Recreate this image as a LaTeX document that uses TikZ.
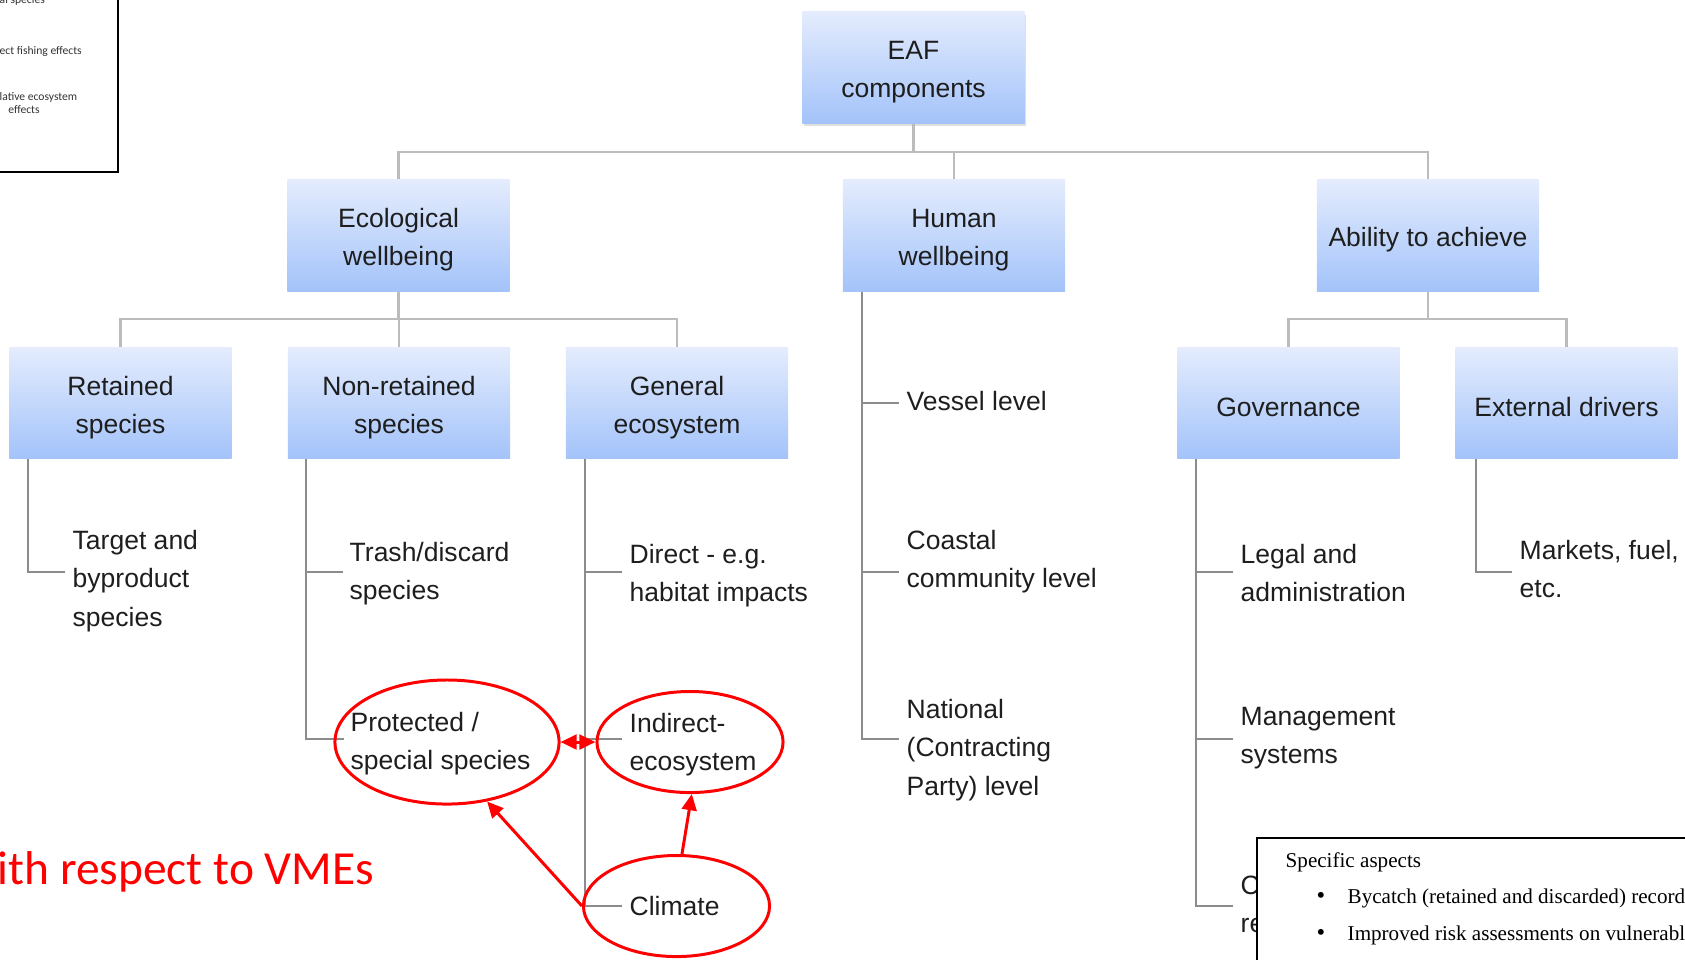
\documentclass[tikz,border=0pt]{standalone}
\usepackage{fontspec}
\setmainfont{Liberation Sans}
\newfontfamily\calib{Carlito}
\newfontfamily\tms{Liberation Serif}
\usetikzlibrary{shapes.geometric,arrows.meta,shadows,calc}

\definecolor{boxtop}{RGB}{228,236,253}
\definecolor{boxbot}{RGB}{163,195,250}
\definecolor{wire}{RGB}{188,188,188}
\definecolor{stemgray}{RGB}{140,140,140}
\definecolor{txt}{RGB}{30,30,30}
\definecolor{mark}{RGB}{255,0,0}

% strut that lowers box labels a little inside their boxes
\newcommand\liftline{\rule{0pt}{1.05em}}

\begin{document}
\begin{tikzpicture}[x=0.01cm,y=-0.01cm,
  comp/.style={rectangle, top color=boxtop, bottom color=boxbot, draw=none,
    minimum width=2.22cm, minimum height=1.11cm, align=center, inner sep=0pt,
    text=txt, font={\fontsize{7.54}{10.85}\selectfont}},
  leaf/.style={anchor=west, align=left, inner sep=0pt, text=txt,
    font={\fontsize{7.54}{10.85}\selectfont}},
  wireline/.style={draw=wire, line width=0.6pt},
  stemline/.style={draw=stemgray, line width=0.55pt},
  hl/.style={ellipse, draw=mark, line width=0.85pt, inner sep=0pt},
  harrow/.style={draw=mark, line width=0.85pt, -{Triangle[length=4.6pt,width=4.2pt]}},
  harrows/.style={draw=mark, line width=0.85pt, {Triangle[length=4.6pt,width=4.2pt]}-{Triangle[length=4.6pt,width=4.2pt]}},
  small/.style={inner sep=0pt, text=black!80, font={\calib\fontsize{3.3}{4}\selectfont}},
  spec/.style={inner sep=0pt, text=black, font={\tms\fontsize{6}{7}\selectfont}}
]
\useasboundingbox (0,0) rectangle (1685,959);
\clip (0,0) rectangle (1685,959);

% legend box at the top left, running off the page
\draw[line width=0.6pt] (-20,-20) rectangle (118,172);
\node[small, anchor=base west] (lg1) at (-1,3) {al species};
\node[small, anchor=base west] (lg2) at (-1,54) {ect fishing effects};
\node[small, anchor=base west] (lg3) at (-1,100) {lative ecosystem};
\node[small, anchor=base] (lg4) at (24,113) {effects};

% component boxes
\node[comp, drop shadow={opacity=0.25, shadow xshift=0.5pt, shadow yshift=-0.8pt}] (eaf) at (913.5,67.5) {\liftline EAF\\components};
\node[comp] (eco) at (398.5,235.5) {\liftline Ecological\\wellbeing};
\node[comp] (hum) at (954,235.5) {\liftline Human\\wellbeing};
\node[comp] (abl) at (1428,235.5) {\liftline Ability to achieve};
\node[comp] (ret) at (120.5,403) {\liftline Retained\\species};
\node[comp] (non) at (399,403) {\liftline Non-retained\\species};
\node[comp] (gen) at (677,403) {\liftline General\\ecosystem};
\node[comp] (gov) at (1288.5,403) {\liftline Governance};
\node[comp] (ext) at (1566.5,403) {\liftline External drivers};

% tree connectors
\coordinate (bus1) at (913.5,152);
\coordinate (bus2) at (0,319);
\draw[wireline] (eaf.south) -- (eaf.south |- bus1);
\draw[wireline] (eco.north) |- (bus1 -| abl.north) -- (abl.north);
\draw[wireline] (hum.north) -- (hum.north |- bus1);
\draw[wireline] (eco.south) -- (eco.south |- bus2);
\draw[wireline] (ret.north) |- (bus2 -| gen.north) -- (gen.north);
\draw[wireline] (non.north) -- (non.north |- bus2);
\draw[wireline] (abl.south) -- (abl.south |- bus2);
\draw[wireline] (gov.north) |- (bus2 -| ext.north) -- (ext.north);

% leaf items
\node[leaf] (tgt) at (72,581) {Target and\\byproduct\\species};
\node[leaf] (trash) at (349,574) {Trash/discard\\species};
\node[leaf] (prot) at (350,744) {Protected /\\special species};
\node[leaf] (dir) at (629,576) {Direct - e.g.\\habitat impacts};
\node[leaf] (ind) at (629,745) {Indirect-\\ecosystem};
\node[leaf] (clim) at (629,906) {Climate};
\node[leaf] (ves) at (906,401) {Vessel level};
\node[leaf] (coast) at (906,562) {Coastal\\community level};
\node[leaf] (nat) at (906,750) {National\\(Contracting\\Party) level};
\node[leaf] (legal) at (1240,573) {Legal and\\administration};
\node[leaf] (mgmt) at (1240,738) {Management\\systems};
\begin{scope}
  \clip (1230,860) rectangle (1257,950);
  \node[leaf] (third) at (1240,904) {C\\re};
\end{scope}
\node[leaf] (mkt) at (1519,569) {Markets, fuel,\\etc.};

% stems and ticks
\coordinate (s-ret) at ($(ret.south west)+(19,0)$);
\coordinate (s-non) at ($(non.south west)+(19,0)$);
\coordinate (s-gen) at ($(gen.south west)+(20,0)$);
\coordinate (s-hum) at ($(hum.south west)+(19.5,0)$);
\coordinate (s-gov) at ($(gov.south west)+(19,0)$);
\coordinate (s-ext) at ($(ext.south west)+(21,0)$);

\draw[stemline] (s-ret) |- ($(tgt.west)+(-7,-9)$);
\draw[stemline] (s-non) |- ($(trash.west)+(-6,-2)$);
\draw[stemline] (s-non) |- ($(prot.west)+(-6,-5)$);
\draw[stemline] (s-gen) |- ($(dir.west)+(-7,-4)$);
\draw[stemline] (s-gen) |- ($(ind.west)+(-7,-6)$);
\draw[stemline] (s-gen) |- ($(clim.west)+(-7,0)$);
\draw[stemline] (s-hum) |- ($(ves.west)+(-7,2)$);
\draw[stemline] (s-hum) |- ($(coast.west)+(-7,10)$);
\draw[stemline] (s-hum) |- ($(nat.west)+(-7,-11)$);
\draw[stemline] (s-gov) |- ($(legal.west)+(-7,-1)$);
\draw[stemline] (s-gov) |- ($(mgmt.west)+(-7,1)$);
\draw[stemline] (s-gov) |- ($(third.west)+(-7,2)$);
\draw[stemline] (s-ext) |- ($(mkt.west)+(-7,3)$);

% highlighted items and their links
\node[hl, minimum width=2.24cm, minimum height=1.24cm] (ep) at (447,742) {};
\node[hl, minimum width=1.86cm, minimum height=1.01cm] (ei) at (690,742) {};
\node[hl, minimum width=1.86cm, minimum height=1.01cm] (ec) at (676.5,906) {};
\draw[harrows] (ep.east) -- (ei.west);
\draw[harrow] (ec.west) -- (ep.-56);
\draw[harrow] (ec.84) -- (ei.-88);

\node[anchor=base west, inner sep=0pt, text=mark, font={\calib\fontsize{13.5}{15}\selectfont}] (vme) at (-3,884) {ith respect to VMEs};

% specific aspects panel, running off the page
\draw[line width=0.6pt, fill=white] (1257,838) rectangle (1720,1000);
\node[spec, anchor=base west] (sa) at (1285,867) {Specific aspects};
\node[spec, anchor=base, font={\tms\fontsize{7}{8}\selectfont}] (b1) at (1321,903) {•};
\node[spec, anchor=base west] (sa1) at (1347,903) {Bycatch (retained and discarded) record};
\node[spec, anchor=base, font={\tms\fontsize{7}{8}\selectfont}] (b2) at (1321,940) {•};
\node[spec, anchor=base west] (sa2) at (1347,940) {Improved risk assessments on vulnerabl};
\end{tikzpicture}
\end{document}
